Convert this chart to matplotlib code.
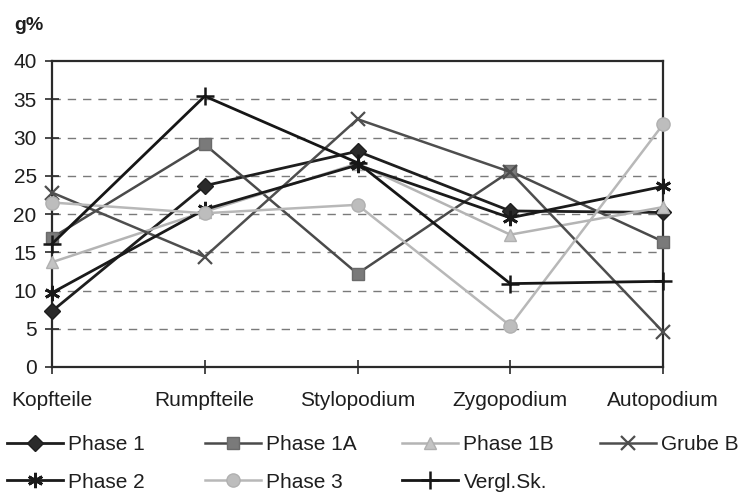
import matplotlib
matplotlib.use("Agg")
import matplotlib.pyplot as plt

plt.rcParams['font.family'] = ['Liberation Sans', 'DejaVu Sans']

categories = ["Kopfteile", "Rumpfteile", "Stylopodium", "Zygopodium", "Autopodium"]
y_ticks = [0, 5, 10, 15, 20, 25, 30, 35, 40]

phase_1 = [7.3, 23.7, 28.2, 20.4, 20.2]
phase_1a = [16.9, 29.1, 12.2, 25.6, 16.4]
phase_1b = [13.7, 20.3, 26.6, 17.3, 20.9]
grube_b = [22.8, 14.4, 32.4, 25.5, 4.6]
phase_2 = [9.7, 20.6, 26.4, 19.5, 23.6]
phase_3 = [21.5, 20.1, 21.2, 5.4, 31.7]
vergl_sk = [16.1, 35.4, 26.7, 10.9, 11.2]

FS = 15

fig = plt.figure(figsize=(7.4, 4.93), dpi=100)
ax = fig.add_axes([52 / 740, 1 - 367 / 493, (663 - 52) / 740, (367 - 61) / 493])

x = list(range(len(categories)))

series = [
    ("Phase 1", phase_1, dict(color="#1e1e1e", lw=2.0, marker="D", ms=8,
                              mfc="#2a2a2a", mec="#1e1e1e")),
    ("Phase 1A", phase_1a, dict(color="#4a4a4a", lw=1.8, marker="s", ms=9,
                                mfc="#7a7a7a", mec="#6a6a6a")),
    ("Phase 1B", phase_1b, dict(color="#b4b4b4", lw=1.8, marker="^", ms=9,
                                mfc="#c4c4c4", mec="#b0b0b0")),
    ("Grube B", grube_b, dict(color="#4e4e4e", lw=1.8, marker="x", ms=10,
                              mew=1.6, mec="#4e4e4e")),
    ("Phase 2", phase_2, dict(color="#1a1a1a", lw=2.0, marker=(6, 2, 0), ms=11,
                              mew=2.0, mec="#1a1a1a")),
    ("Phase 3", phase_3, dict(color="#b8b8b8", lw=1.8, marker="o", ms=9.5,
                              mfc="#bdbdbd", mec="#b0b0b0")),
    ("Vergl.Sk.", vergl_sk, dict(color="#161616", lw=2.0, marker="+", ms=13,
                                 mew=1.8, mec="#161616")),
]

handles = {}
for name, vals, style in series:
    line, = ax.plot(x, vals, label=name, clip_on=False, zorder=3, **style)
    handles[name] = line

ax.set_xlim(0, 4)
ax.set_ylim(0, 40)
ax.set_yticks(y_ticks)
ax.set_yticklabels([str(v) for v in y_ticks])
ax.set_xticks(x)
ax.set_xticklabels(categories)

for yv in y_ticks[1:-1]:
    ax.axhline(yv, color="#7a7a7a", lw=1.0, dashes=(6, 5), zorder=1)

for sp in ax.spines.values():
    sp.set_color("#2a2a2a")
    sp.set_linewidth(1.6)

ax.tick_params(axis="both", direction="inout", length=10, width=1.2,
               color="#2a2a2a", labelsize=FS, labelcolor="#1e1e1e")
ax.tick_params(axis="x", pad=12)
ax.tick_params(axis="y", pad=6)

fig.text(14 / 740, 1 - 25 / 493, "g%", fontsize=14, fontweight="bold",
         color="#1e1e1e", va="center", ha="left")

columns = [
    (7, ["Phase 1", "Phase 2"]),
    (205, ["Phase 1A", "Phase 3"]),
    (402, ["Phase 1B", "Vergl.Sk."]),
    (600, ["Grube B"]),
]
for xpx, names in columns:
    leg = fig.legend([handles[n] for n in names], names,
                     loc="upper left", bbox_to_anchor=(xpx / 740, 1 - 435 / 493),
                     frameon=False, fontsize=FS, handlelength=2.7,
                     handletextpad=0.25, labelspacing=0.9, borderpad=0,
                     borderaxespad=0)
    for t in leg.get_texts():
        t.set_color("#1e1e1e")

fig.savefig("out.png", dpi=100)
